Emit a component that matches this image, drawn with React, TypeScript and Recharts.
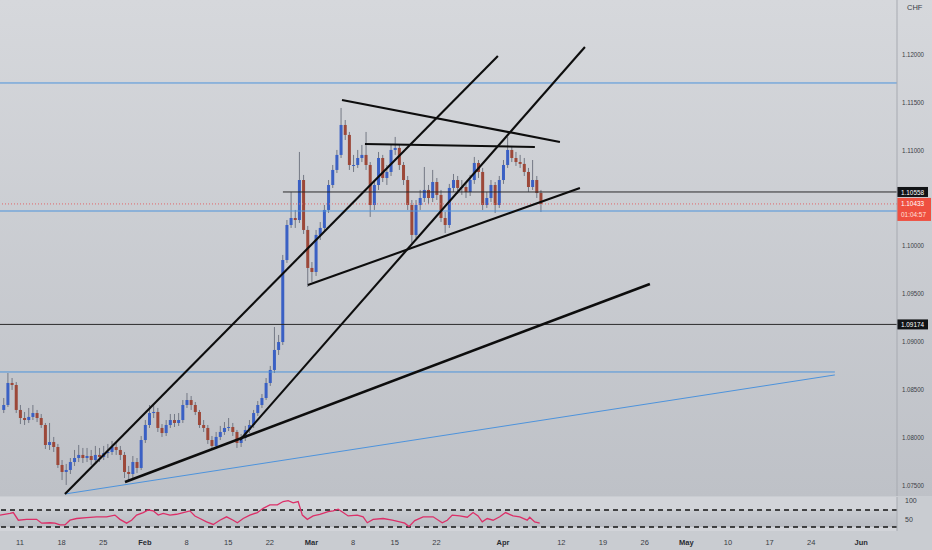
import React from "react";
import {
    ComposedChart,
    Bar,
    XAxis,
    YAxis,
    ReferenceLine,
    ReferenceArea,
    LineChart,
    Line,
} from "recharts";

// half-day candles
const opens = [
    1.08280, 1.08332, 1.08562, 1.08541, 1.08280, 1.08196, 1.08175, 1.08207, 1.08248, 1.08196,
    1.08123, 1.07914, 1.07945, 1.07893, 1.07705, 1.07632, 1.07653, 1.07736, 1.07778, 1.07810,
    1.07778, 1.07799, 1.07757, 1.07810, 1.07789, 1.07830, 1.07841, 1.07893, 1.07862, 1.07810,
    1.07632, 1.07611, 1.07736, 1.07674, 1.07966, 1.08123, 1.08248, 1.08259, 1.08092, 1.08039,
    1.08123, 1.08175, 1.08144, 1.08175, 1.08332, 1.08384, 1.08332, 1.08259, 1.08123, 1.08092,
    1.07966, 1.07904, 1.07998, 1.08050, 1.08092, 1.08102, 1.08050, 1.07935, 1.07987, 1.08071,
    1.08123, 1.08248, 1.08332, 1.08405, 1.08562, 1.08698, 1.08907, 1.08990, 1.09847, 1.10213,
    1.10286, 1.10265, 1.10683, 1.10161, 1.09764, 1.09722, 1.10109, 1.10182, 1.10370, 1.10631,
    1.10788, 1.10945, 1.11258, 1.11154, 1.10840, 1.10840, 1.10913, 1.10945, 1.10840, 1.10422,
    1.10631, 1.10913, 1.10704, 1.10767, 1.10997, 1.11018, 1.10840, 1.10683, 1.10422, 1.10109,
    1.10422, 1.10495, 1.10579, 1.10495, 1.10662, 1.10527, 1.10286, 1.10213, 1.10600, 1.10683,
    1.10600, 1.10610, 1.10558, 1.10683, 1.10861, 1.10767, 1.10422, 1.10495, 1.10631, 1.10422,
    1.10683, 1.10840, 1.10997, 1.10913, 1.10871, 1.10851, 1.10767, 1.10610, 1.10683, 1.10547,
];
const highs = [
    1.08405, 1.08666, 1.08614, 1.08572, 1.08332, 1.08259, 1.08301, 1.08332, 1.08280, 1.08238,
    1.08144, 1.08144, 1.07998, 1.07925, 1.07757, 1.07716, 1.07778, 1.07862, 1.07914, 1.07883,
    1.07883, 1.07862, 1.07904, 1.07883, 1.07904, 1.07925, 1.07956, 1.07935, 1.07904, 1.07841,
    1.07695, 1.07799, 1.07778, 1.08008, 1.08175, 1.08332, 1.08332, 1.08301, 1.08133, 1.08175,
    1.08238, 1.08238, 1.08248, 1.08384, 1.08457, 1.08426, 1.08363, 1.08280, 1.08175, 1.08123,
    1.08008, 1.08050, 1.08113, 1.08154, 1.08196, 1.08144, 1.08071, 1.08029, 1.08113, 1.08175,
    1.08280, 1.08374, 1.08447, 1.08614, 1.08740, 1.09147, 1.09064, 1.09900, 1.10265, 1.10558,
    1.10370, 1.10976, 1.10736, 1.10203, 1.09826, 1.10161, 1.10244, 1.10422, 1.10683, 1.10840,
    1.10997, 1.11436, 1.11310, 1.11185, 1.10945, 1.10997, 1.11049, 1.11185, 1.10871, 1.10683,
    1.10976, 1.10945, 1.10840, 1.11049, 1.11133, 1.11049, 1.10871, 1.10725, 1.10474, 1.10474,
    1.10579, 1.10819, 1.10631, 1.10788, 1.10704, 1.10579, 1.10349, 1.10642, 1.10746, 1.10725,
    1.10683, 1.10662, 1.10736, 1.10924, 1.10892, 1.10809, 1.10558, 1.10683, 1.10662, 1.10725,
    1.10892, 1.11133, 1.11039, 1.10976, 1.10945, 1.10913, 1.10809, 1.10892, 1.10725, 1.10579,
];
const lows = [
    1.08248, 1.08311, 1.08489, 1.08248, 1.08133, 1.08123, 1.08144, 1.08175, 1.08154, 1.08092,
    1.07872, 1.07862, 1.07841, 1.07674, 1.07548, 1.07496, 1.07611, 1.07695, 1.07736, 1.07726,
    1.07736, 1.07705, 1.07716, 1.07736, 1.07757, 1.07778, 1.07810, 1.07810, 1.07757, 1.07569,
    1.07548, 1.07569, 1.07621, 1.07653, 1.07935, 1.08092, 1.08196, 1.08050, 1.07998, 1.08008,
    1.08092, 1.08102, 1.08113, 1.08144, 1.08301, 1.08280, 1.08227, 1.08092, 1.08050, 1.07925,
    1.07862, 1.07872, 1.07966, 1.08019, 1.08060, 1.08008, 1.07883, 1.07893, 1.07956, 1.08039,
    1.08092, 1.08217, 1.08301, 1.08384, 1.08531, 1.08666, 1.08855, 1.08959, 1.09816, 1.10182,
    1.10182, 1.10234, 1.10119, 1.09565, 1.09617, 1.09680, 1.10056, 1.10140, 1.10338, 1.10600,
    1.10756, 1.10913, 1.11101, 1.10788, 1.10767, 1.10809, 1.10871, 1.10788, 1.10297, 1.10370,
    1.10579, 1.10662, 1.10631, 1.10725, 1.10945, 1.10788, 1.10631, 1.10370, 1.10025, 1.10077,
    1.10370, 1.10453, 1.10433, 1.10453, 1.10474, 1.10244, 1.10129, 1.10182, 1.10558, 1.10537,
    1.10527, 1.10495, 1.10516, 1.10642, 1.10704, 1.10370, 1.10391, 1.10453, 1.10338, 1.10391,
    1.10642, 1.10809, 1.10871, 1.10830, 1.10809, 1.10725, 1.10558, 1.10579, 1.10495, 1.10349,
];
const closes = [
    1.08332, 1.08562, 1.08541, 1.08280, 1.08196, 1.08175, 1.08207, 1.08248, 1.08196, 1.08123,
    1.07914, 1.07945, 1.07893, 1.07705, 1.07632, 1.07653, 1.07736, 1.07778, 1.07810, 1.07778,
    1.07799, 1.07757, 1.07810, 1.07789, 1.07830, 1.07841, 1.07893, 1.07862, 1.07810, 1.07632,
    1.07611, 1.07736, 1.07674, 1.07966, 1.08123, 1.08248, 1.08259, 1.08092, 1.08039, 1.08123,
    1.08175, 1.08144, 1.08175, 1.08332, 1.08384, 1.08332, 1.08259, 1.08123, 1.08092, 1.07966,
    1.07904, 1.07998, 1.08050, 1.08092, 1.08102, 1.08050, 1.07935, 1.07987, 1.08071, 1.08123,
    1.08248, 1.08332, 1.08405, 1.08562, 1.08698, 1.08907, 1.08990, 1.09847, 1.10213, 1.10286,
    1.10265, 1.10683, 1.10161, 1.09764, 1.09722, 1.10109, 1.10182, 1.10370, 1.10631, 1.10788,
    1.10945, 1.11258, 1.11154, 1.10840, 1.10840, 1.10913, 1.10945, 1.10840, 1.10422, 1.10631,
    1.10913, 1.10704, 1.10767, 1.10997, 1.11018, 1.10840, 1.10683, 1.10422, 1.10109, 1.10422,
    1.10495, 1.10579, 1.10495, 1.10662, 1.10527, 1.10286, 1.10213, 1.10600, 1.10683, 1.10600,
    1.10610, 1.10558, 1.10683, 1.10861, 1.10767, 1.10422, 1.10495, 1.10631, 1.10422, 1.10683,
    1.10840, 1.10997, 1.10913, 1.10871, 1.10851, 1.10767, 1.10610, 1.10683, 1.10547, 1.10433,
];
// trading-day index (Jan 11 = 0), two candles per day
const candleT = opens.map((_, i) => -2 + i * 0.5);

const rsiT = [
    -2.4, -1.2, -0.8, -0.2, 0.8, 2.0, 2.6, 3.6, 4.2, 4.8, 5.4, 6.0, 6.8, 8.0, 9.2, 10.4, 11.4, 12.0, 12.8, 13.4,
    14.0, 14.8, 15.4, 16.0, 16.6, 17.2, 18.0, 18.8, 19.6, 20.4, 21.0, 21.6, 22.4, 23.2, 24.0, 24.8, 25.6, 26.1, 26.8, 27.6,
    28.5, 29.2, 30.0, 30.9, 31.6, 32.2, 32.8, 33.4, 33.9, 34.5, 35.2, 36.0, 37.0, 37.6, 38.2, 38.8, 39.4, 40.5, 41.2, 41.7,
    42.4, 43.6, 44.7, 45.6, 46.2, 46.7, 47.4, 48.4, 49.6, 50.7, 51.3, 51.9, 52.8, 53.7, 54.4, 55.0, 55.5, 56.1, 56.8, 57.6,
    58.3, 59.2, 60.0, 60.9, 61.2, 61.8, 62.4,
];
const rsiV = [
    58, 62, 64, 46, 48, 48, 39, 40, 39, 35, 35, 46, 50, 52, 54, 54, 58, 48, 39, 46,
    58, 64, 70, 68, 58, 62, 58, 60, 64, 68, 56, 50, 42, 36, 46, 54, 46, 40, 50, 58,
    64, 74, 82, 82, 90, 92, 87, 90, 58, 48, 56, 60, 66, 68, 72, 64, 56, 58, 54, 40,
    48, 50, 46, 42, 39, 31, 45, 54, 54, 40, 46, 58, 56, 53, 64, 56, 42, 50, 46, 54,
    64, 56, 54, 46, 53, 42, 39,
];

// 1.12500 sits under the currency badge in the original, so it is left out
const priceTicks = [1.075, 1.08, 1.085, 1.09, 1.095, 1.1, 1.11, 1.115, 1.12];
const rsiTicks = [50, 100];
const dateTicks = [0, 5, 10, 15, 20, 25, 30, 35, 40, 45, 50, 58, 65, 70, 75, 80, 85, 90, 95, 101];
const dateLabels = ["11", "18", "25", "Feb", "8", "15", "22", "Mar", "8", "15", "22", "Apr", "12", "19", "26", "May", "10", "17", "24", "Jun"];
const monthLabels = ["Feb", "Mar", "Apr", "May", "Jun"];

// drawn trend lines: [t, price] pairs
const trendFrom = [[5.4, 1.07402], [26.41, 1.07966], [12.61, 1.07527], [34.57, 1.09586], [38.66, 1.11519], [41.42, 1.1106]];
const trendTo = [[57.38, 1.11979], [67.83, 1.12073], [75.63, 1.09597], [67.23, 1.106], [64.83, 1.11081], [61.82, 1.11028]];
const blueLevels = [1.11697, 1.10359];
const blueShortLevel = { from: -2.4, to: 97.84, price: 1.08677 };
const blueDiagonal = [[5.4, 1.07402], [97.84, 1.08646]];
const blackLevelA = { from: 31.57, price: 1.10558 };
const blackLevelB = 1.09174;
const lastPrice = 1.10433;

const T_DOMAIN: [number, number] = [-2.4, 105.3];
const PRICE_DOMAIN: [number, number] = [1.07381, 1.12564];
const RSI_DOMAIN: [number, number] = [20.6, 100.6];

const FONT = "'Liberation Sans', Arial, sans-serif";
const UP = "#3a60c4";
const DOWN = "#9c4839";
const WICK = "#737884";
const BLUE = "#4d93dc";
const TEXT = "#3a3d45";

function Candle(props: any) {
    const { x, y, width, height, payload } = props;
    if (!payload || y == null) return null;
    const top = Math.min(y, y + height);
    const h = Math.abs(height);
    const { open, close, high, low } = payload;
    const span = high - low || 1e-9;
    const py = (v: number) => top + ((high - v) / span) * h;
    const bTop = py(Math.max(open, close));
    const bBot = py(Math.min(open, close));
    const cx = x + width / 2;
    return (
        <g>
            <line x1={cx} x2={cx} y1={top} y2={top + h} stroke={WICK} strokeWidth={1} />
            <rect x={x} y={bTop} width={width} height={Math.max(1, bBot - bTop)} fill={close >= open ? UP : DOWN} />
        </g>
    );
}

const PriceTick = (props: any) => (
    <text x={props.x} y={props.y} dy={3} fontSize={8} fill={TEXT} fontFamily={FONT} textAnchor="start"
        textLength={22} lengthAdjust="spacingAndGlyphs">
        {Number(props.payload.value).toFixed(5)}
    </text>
);

// the top label hugs the panel edge, pushed down just enough to stay readable
const RsiTick = (props: any) => (
    <text x={props.x + 3} y={props.y} dy={props.payload.value === 100 ? 6 : 3} fontSize={7} fill={TEXT}
        fontFamily={FONT} textAnchor="start">
        {props.payload.value}
    </text>
);

const DateTick = (props: any) => {
    const label = dateLabels[dateTicks.indexOf(props.payload.value)];
    const bold = monthLabels.includes(label);
    return (
        <text x={props.x} y={props.y + 12} fontSize={7.5} fill={bold ? "#2a2d33" : TEXT} fontWeight={bold ? 700 : 400}
            fontFamily={FONT} textAnchor="middle">
            {label}
        </text>
    );
};

const PriceTag = ({ viewBox, text, bg, sub }: any) => {
    if (!viewBox) return null;
    const x = viewBox.x + viewBox.width;
    const top = sub ? viewBox.y - 6 : viewBox.y - 5;
    return (
        <g>
            <rect x={x} y={top} width={sub ? 34 : 31} height={sub ? 23 : 10} fill={bg} />
            <text x={x + 4} y={top + 8} fontSize={8} fill="#fff" fontFamily={FONT}
                textLength={23} lengthAdjust="spacingAndGlyphs">{text}</text>
            {sub && (
                <text x={x + 4} y={top + 19} fontSize={8} fill="#ffe0dc" fontFamily={FONT}
                    textLength={25} lengthAdjust="spacingAndGlyphs">{sub}</text>
            )}
        </g>
    );
};

export default function App() {
    const candles = candleT.map((t, i) => ({ t, open: opens[i], high: highs[i], low: lows[i], close: closes[i] }));
    const rsi = rsiT.map((t, i) => ({ t, v: rsiV[i] }));

    return (
        <div style={{ position: "fixed", left: 0, top: 0, width: 932, height: 550, background: "#c9ccd1", fontFamily: FONT }}>
            <div style={{ position: "absolute", left: 0, top: 0, width: 932, height: 496, background: "linear-gradient(#d6d8dc, #bec1c7)" }}>
                <ComposedChart width={932} height={496} data={candles} margin={{ top: 0, right: 0, bottom: 0, left: 0 }}>
                    <XAxis dataKey="t" type="number" domain={T_DOMAIN} allowDataOverflow hide />
                    <YAxis
                        orientation="right"
                        width={35}
                        domain={PRICE_DOMAIN}
                        allowDataOverflow
                        ticks={priceTicks}
                        interval={0}
                        tickLine={false}
                        tickSize={0}
                        tickMargin={5}
                        axisLine={{ stroke: "#a7aab1" }}
                        tick={<PriceTick />}
                    />
                    <Bar
                        dataKey={(d: any) => [d.low, d.high]}
                        barSize={3}
                        shape={(p: any) => <Candle {...p} />}
                        isAnimationActive={false}
                    />
                    {blueLevels.map(p => (
                        <ReferenceLine key={p} y={p} stroke={BLUE} strokeWidth={1} />
                    ))}
                    <ReferenceLine
                        segment={[{ x: blueShortLevel.from, y: blueShortLevel.price }, { x: blueShortLevel.to, y: blueShortLevel.price }]}
                        stroke={BLUE}
                        strokeWidth={1}
                    />
                    <ReferenceLine
                        segment={[{ x: blueDiagonal[0][0], y: blueDiagonal[0][1] }, { x: blueDiagonal[1][0], y: blueDiagonal[1][1] }]}
                        stroke={BLUE}
                        strokeWidth={1}
                    />
                    <ReferenceLine y={lastPrice} stroke="#e2676a" strokeWidth={1} strokeDasharray="1 2"
                        label={<PriceTag text={lastPrice.toFixed(5)} sub="01:04:57" bg="#ef4f40" />} />
                    <ReferenceLine
                        segment={[{ x: blackLevelA.from, y: blackLevelA.price }, { x: T_DOMAIN[1], y: blackLevelA.price }]}
                        stroke="#2b2b2b"
                        strokeWidth={1}
                    />
                    <ReferenceLine y={blackLevelA.price} stroke="transparent"
                        label={<PriceTag text={blackLevelA.price.toFixed(5)} bg="#111316" />} />
                    <ReferenceLine y={blackLevelB} stroke="#2b2b2b" strokeWidth={1}
                        label={<PriceTag text={blackLevelB.toFixed(5)} bg="#111316" />} />
                    {trendFrom.map((a, i) => (
                        <ReferenceLine
                            key={i}
                            segment={[{ x: a[0], y: a[1] }, { x: trendTo[i][0], y: trendTo[i][1] }]}
                            stroke="#0d0d0d"
                            strokeWidth={i === 2 ? 2.6 : 2.1}
                        />
                    ))}
                </ComposedChart>
                <div style={{ position: "absolute", left: 907, top: 2, fontSize: 7.5, color: TEXT, lineHeight: "11px" }}>
                    CHF
                </div>
            </div>
            <div style={{ position: "absolute", left: 0, top: 496, width: 932, height: 54 }}>
                <LineChart width={932} height={54} data={rsi} margin={{ top: 1, right: 0, bottom: 0, left: 0 }}>
                    <defs>
                        <linearGradient id="rsiBand" x1="0" y1="0" x2="0" y2="1">
                            <stop offset="0%" stopColor="#c8cbd0" />
                            <stop offset="100%" stopColor="#b8bbc2" />
                        </linearGradient>
                    </defs>
                    <XAxis
                        dataKey="t"
                        type="number"
                        domain={T_DOMAIN}
                        allowDataOverflow
                        ticks={dateTicks}
                        interval={0}
                        height={19}
                        axisLine={false}
                        tickLine={false}
                        tickSize={0}
                        tick={<DateTick />}
                    />
                    <YAxis
                        orientation="right"
                        width={35}
                        domain={RSI_DOMAIN}
                        allowDataOverflow
                        ticks={rsiTicks}
                        interval={0}
                        tickLine={false}
                        tickSize={0}
                        tickMargin={5}
                        axisLine={{ stroke: "#a7aab1" }}
                        tick={<RsiTick />}
                    />
                    <ReferenceArea y1={RSI_DOMAIN[0]} y2={RSI_DOMAIN[1]} fill="#d2d4d9" fillOpacity={1} />
                    <ReferenceArea y1={30} y2={70} fill="url(#rsiBand)" fillOpacity={1} />
                    <ReferenceLine y={70} stroke="#151515" strokeWidth={1.5} strokeDasharray="5 4" />
                    <ReferenceLine y={30} stroke="#151515" strokeWidth={1.5} strokeDasharray="5 4" />
                    <Line dataKey="v" stroke="#dc2f68" strokeWidth={1.3} dot={false} isAnimationActive={false} />
                </LineChart>
            </div>
        </div>
    );
}
